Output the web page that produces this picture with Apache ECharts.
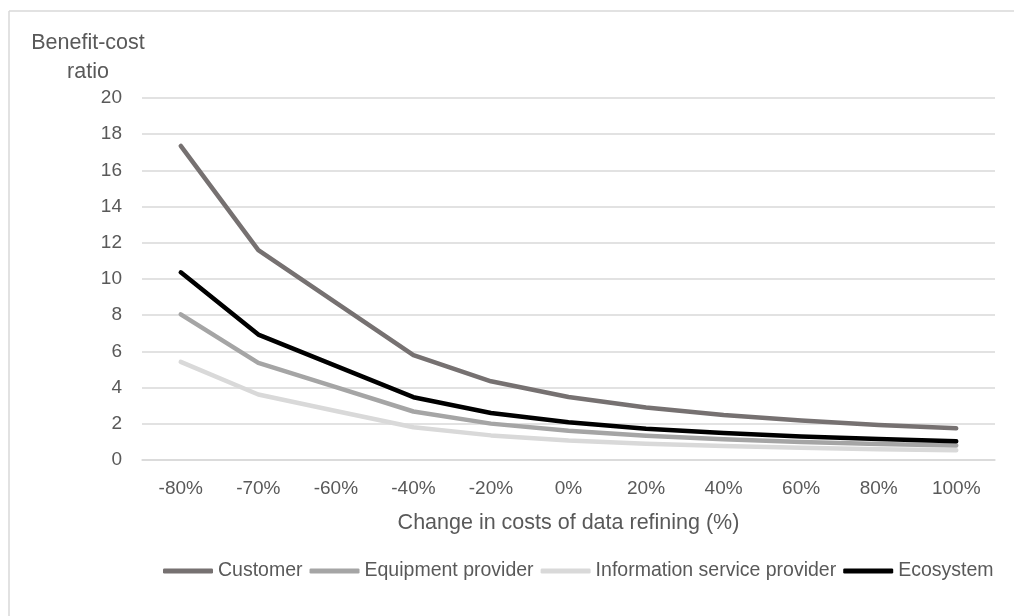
<!DOCTYPE html>
<html>
<head>
<meta charset="utf-8">
<title>Benefit-cost ratio</title>
<script src="https://cdn.jsdelivr.net/npm/echarts@6/dist/echarts.min.js"></script>
<style>
  html, body { margin: 0; padding: 0; background: #ffffff; }
  #chart { width: 1014px; height: 616px; }
</style>
</head>
<body>
<div id="chart"></div>
<script>
// Change in the cost of data refining, relative to the base case
const categories = ['-80%', '-70%', '-60%', '-40%', '-20%', '0%', '20%', '40%', '60%', '80%', '100%'];

// Benefit-cost ratio per stakeholder
const customer = [17.35, 11.6, 8.7, 5.8, 4.35, 3.48, 2.9, 2.49, 2.18, 1.93, 1.75];
const equipmentProvider = [8.05, 5.37, 4.03, 2.68, 2.01, 1.61, 1.34, 1.15, 1.0, 0.89, 0.8];
const infoServiceProvider = [5.42, 3.62, 2.71, 1.81, 1.36, 1.08, 0.9, 0.78, 0.68, 0.6, 0.54];
const ecosystem = [10.37, 6.93, 5.2, 3.47, 2.6, 2.08, 1.73, 1.49, 1.3, 1.16, 1.04];

const seriesNames = ['Customer', 'Equipment provider', 'Information service provider', 'Ecosystem'];
const seriesColors = ['#767171', '#a5a5a5', '#d9d9d9', '#000000'];
const seriesData = [customer, equipmentProvider, infoServiceProvider, ecosystem];

const FONT = '"Liberation Sans", Arial, sans-serif';
const TEXT = '#595959';
const GRID_LINE = '#d9d9d9';

const chart = echarts.init(document.getElementById('chart'), null, { renderer: 'canvas' });

chart.setOption({
  animation: false,
  backgroundColor: '#ffffff',
  textStyle: { fontFamily: FONT, color: TEXT },
  grid: { left: 142, right: 19, top: 98, bottom: 156 },
  graphic: [
    // chart frame edges
    { type: 'line', shape: { x1: 9, y1: 11, x2: 1014, y2: 11 }, style: { stroke: GRID_LINE, lineWidth: 1.5 } },
    { type: 'line', shape: { x1: 9, y1: 11, x2: 9, y2: 616 }, style: { stroke: GRID_LINE, lineWidth: 1.5 } },
    // value axis title, two centred lines
    {
      type: 'text', x: 88, y: 29,
      style: {
        text: 'Benefit-cost\nratio', align: 'center', verticalAlign: 'top',
        font: '21.5px ' + FONT, fill: TEXT, lineHeight: 29
      }
    }
  ],
  legend: {
    left: 158, top: 556,
    itemWidth: 50, itemHeight: 5, itemGap: 7,
    icon: 'roundRect',
    textStyle: { fontFamily: FONT, fontSize: 19.5, color: TEXT },
    data: seriesNames
  },
  xAxis: {
    type: 'category',
    data: categories,
    boundaryGap: true,
    name: 'Change in costs of data refining (%)',
    nameLocation: 'middle',
    nameGap: 52,
    nameTextStyle: { fontFamily: FONT, fontSize: 21.5, color: TEXT },
    axisLine: { show: true, lineStyle: { color: GRID_LINE, width: 1.5 } },
    axisTick: { show: false },
    axisLabel: { margin: 19, fontFamily: FONT, fontSize: 19, color: TEXT }
  },
  yAxis: {
    type: 'value',
    min: 0, max: 20, interval: 2,
    axisLine: { show: false },
    axisTick: { show: false },
    axisLabel: { margin: 20, fontFamily: FONT, fontSize: 19, color: TEXT },
    splitLine: { lineStyle: { color: GRID_LINE, width: 1.5 } }
  },
  series: seriesNames.map((name, i) => ({
    name,
    type: 'line',
    data: seriesData[i],
    symbol: 'none',
    smooth: false,
    z: i === 3 ? 5 : 4 - i,
    itemStyle: { color: seriesColors[i] },
    lineStyle: { color: seriesColors[i], width: 4.5, cap: 'round', join: 'round' }
  }))
});
</script>
</body>
</html>
